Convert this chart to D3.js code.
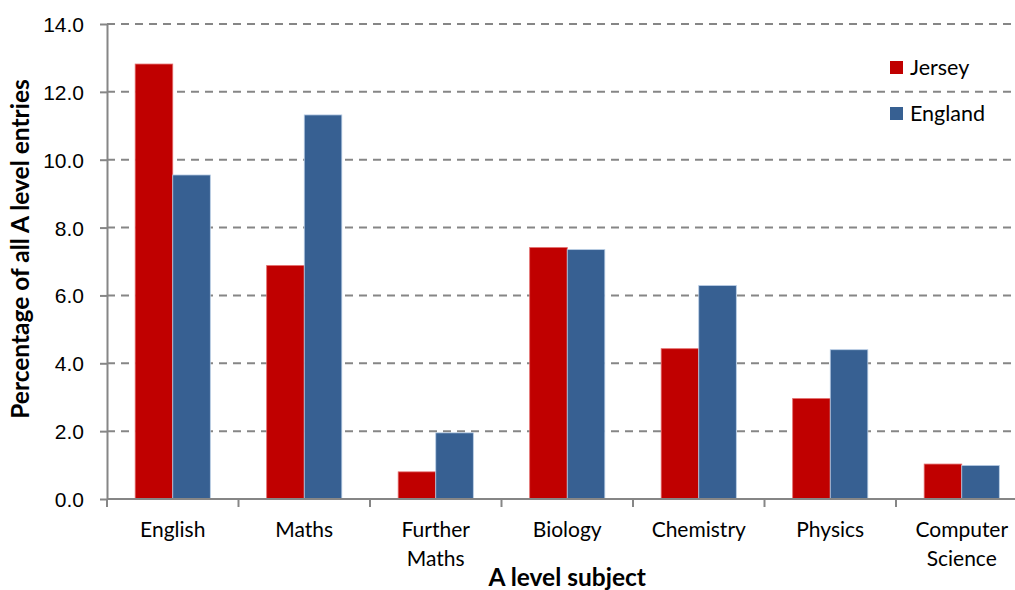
<!DOCTYPE html>
<html>
<head>
<meta charset="utf-8">
<script src="https://cdn.jsdelivr.net/npm/d3@7"></script>
<style>
  body { margin: 0; background: #fff; }
  svg { display: block; font-family: Lato, "Open Sans", sans-serif; }
</style>
</head>
<body>
<svg id="canvas"></svg>
<script>
const subjects = ["English", "Maths", "Further Maths", "Biology", "Chemistry", "Physics", "Computer Science"];
const seriesNames = ["Jersey", "England"];
const jersey = [12.82, 6.88, 0.8, 7.41, 4.43, 2.96, 1.03];
const england = [9.55, 11.32, 1.95, 7.35, 6.29, 4.4, 0.99];
const yTicks = [0, 2, 4, 6, 8, 10, 12, 14];
const seriesColors = ["#c00000", "#376092"];
const seriesEdges = ["#e36c6c", "#b9cde5"];

function getChartConfig() {
  let canvasWidth = 1015,
    canvasHeight = 590;
  let margin = { top: 24, left: 107 };
  let width = 920.5;
  let height = 475;
  let svg = d3.select("#canvas");
  svg.attr("width", canvasWidth).attr("height", canvasHeight);
  return { canvasWidth, canvasHeight, margin, width, height, svg };
}

function getChartScales(config) {
  let { width, height } = config;
  let xScale = d3.scaleBand().domain(subjects).range([0, width]).padding(0);
  let xInner = d3
    .scaleBand()
    .domain(seriesNames)
    .range([0, xScale.bandwidth()])
    .paddingInner(0)
    .paddingOuter(0.75);
  let yScale = d3.scaleLinear().domain([0, 14]).range([height, 0]);
  let cScale = d3.scaleOrdinal().domain(seriesNames).range(seriesColors);
  return { xScale, xInner, yScale, cScale };
}

function drawGrid(scales, config) {
  let { yScale } = scales;
  let { svg, margin, width } = config;
  let g = svg.append("g").attr("transform", `translate(${margin.left},${margin.top})`);
  g.selectAll("line.grid")
    .data(yTicks.filter((d) => d > 0))
    .enter()
    .append("line")
    .attr("class", "grid")
    .attr("x1", 0)
    .attr("x2", width)
    .attr("y1", (d) => yScale(d))
    .attr("y2", (d) => yScale(d))
    .attr("stroke", "#868686")
    .attr("stroke-width", 2)
    .attr("stroke-dasharray", "8,6");
}

function drawChart(scales, config) {
  let { xScale, xInner, yScale, cScale } = scales;
  let { svg, margin } = config;
  let rows = subjects.map((s, i) => ({ subject: s, values: [jersey[i], england[i]] }));
  let g = svg.append("g").attr("transform", `translate(${margin.left},${margin.top})`);
  let groups = g
    .selectAll("g.cat")
    .data(rows)
    .enter()
    .append("g")
    .attr("transform", (d) => `translate(${xScale(d.subject)},0)`);
  groups
    .selectAll("rect")
    .data((d) => d.values.map((v, j) => ({ name: seriesNames[j], value: v, j })))
    .enter()
    .append("rect")
    .attr("x", (d) => xInner(d.name))
    .attr("y", (d) => yScale(d.value))
    .attr("width", xInner.bandwidth())
    .attr("height", (d) => yScale(0) - yScale(d.value))
    .attr("fill", (d) => cScale(d.name))
    .attr("stroke", (d) => seriesEdges[d.j])
    .attr("stroke-width", 0.8);
}

function drawAxes(scales, config) {
  let { xScale, yScale } = scales;
  let { svg, margin, width, height } = config;

  let axisY = d3
    .axisLeft(yScale)
    .tickValues(yTicks)
    .tickFormat(d3.format(".1f"))
    .tickSizeInner(7)
    .tickSizeOuter(0)
    .tickPadding(16);
  let gy = svg
    .append("g")
    .attr("transform", `translate(${margin.left},${margin.top})`)
    .call(axisY);
  gy.selectAll("line").attr("stroke", "#868686").attr("stroke-width", 2);
  gy.select(".domain").attr("stroke", "#868686").attr("stroke-width", 2);
  gy.selectAll("text")
    .attr("fill", "#000")
    .style("font-size", "21px")
    .attr("dy", "0.36em");

  let gx = svg
    .append("g")
    .attr("transform", `translate(${margin.left},${margin.top + height})`);
  gx.append("line")
    .attr("x1", 0)
    .attr("x2", width)
    .attr("stroke", "#868686")
    .attr("stroke-width", 2);
  let bounds = subjects.map((s) => xScale(s)).concat([width]);
  gx.selectAll("line.tick")
    .data(bounds)
    .enter()
    .append("line")
    .attr("class", "tick")
    .attr("x1", (d) => d)
    .attr("x2", (d) => d)
    .attr("y1", 0)
    .attr("y2", 8)
    .attr("stroke", "#868686")
    .attr("stroke-width", 2);
  let labels = gx
    .selectAll("text.lbl")
    .data(subjects)
    .enter()
    .append("text")
    .attr("class", "lbl")
    .attr("text-anchor", "middle")
    .attr("x", (d) => xScale(d) + xScale.bandwidth() / 2)
    .attr("y", 38)
    .style("font-size", "21px");
  labels.each(function (d) {
    let words = d.split(" ");
    d3.select(this)
      .selectAll("tspan")
      .data(words)
      .enter()
      .append("tspan")
      .attr("x", xScale(d) + xScale.bandwidth() / 2)
      .attr("dy", (w, i) => (i === 0 ? 0 : 28.5))
      .text((w) => w);
  });

  svg
    .append("text")
    .attr("text-anchor", "middle")
    .attr("x", margin.left + width / 2)
    .attr("y", 586)
    .style("font-size", "24.5px")
    .style("font-weight", "bold")
    .text("A level subject");

  svg
    .append("text")
    .attr("text-anchor", "middle")
    .attr("transform", `translate(29,249) rotate(-90)`)
    .style("font-size", "24.5px")
    .style("font-weight", "bold")
    .text("Percentage of all A level entries");
}

function drawLegend(scales, config) {
  let { cScale } = scales;
  let { svg } = config;
  let legend = svg
    .selectAll(".legend")
    .data(cScale.domain())
    .enter()
    .append("g")
    .attr("class", "legend")
    .attr("transform", (d, i) => `translate(890,${61 + i * 46})`);
  legend
    .append("rect")
    .attr("width", 13)
    .attr("height", 13)
    .attr("fill", cScale);
  legend
    .append("text")
    .attr("x", 20)
    .attr("y", 14)
    .style("font-size", "21.5px")
    .text((d) => d);
}

function showData() {
  let config = getChartConfig();
  let scales = getChartScales(config);
  drawGrid(scales, config);
  drawChart(scales, config);
  drawAxes(scales, config);
  drawLegend(scales, config);
}

showData();
</script>
</body>
</html>
